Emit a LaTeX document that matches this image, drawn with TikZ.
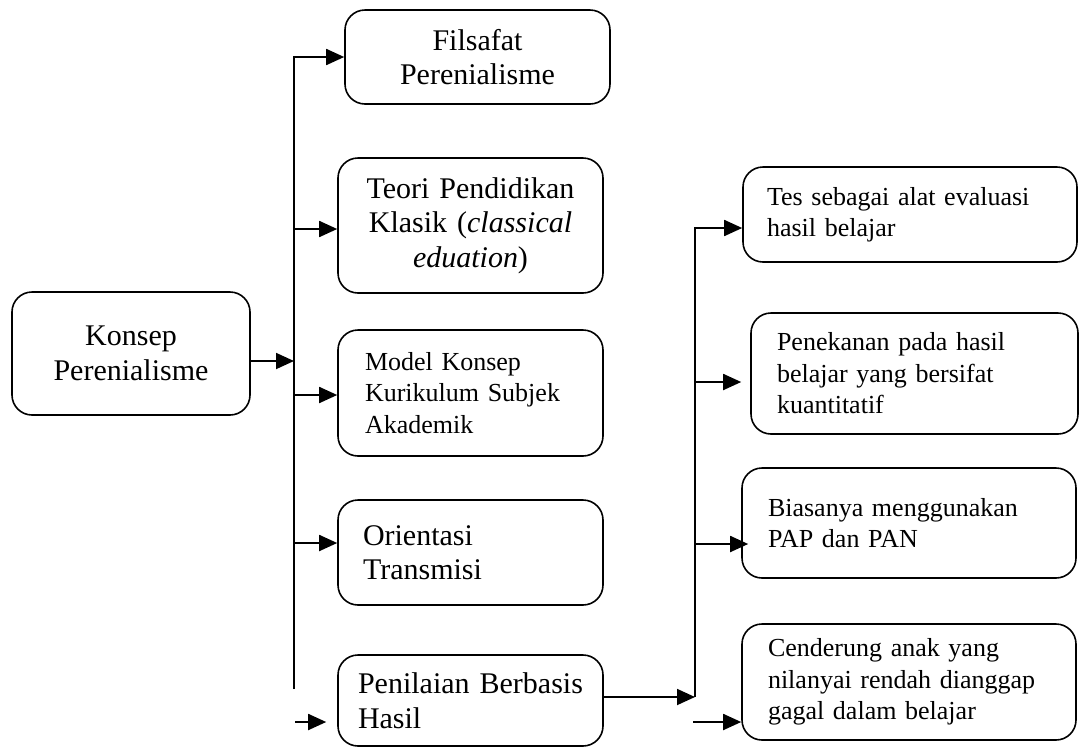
\documentclass[tikz,border=0pt]{standalone}
\usepackage{fontspec}
\setmainfont{Liberation Serif}
\usetikzlibrary{arrows.meta}

\begin{document}
\begin{tikzpicture}[x=1pt,y=-1pt,
 box/.style ={draw=black,line width=1.6pt,rounded corners=20pt,inner ysep=0pt,font=\fontsize{30}{34.5}\selectfont},
 small/.style ={font=\fontsize{26}{31.5}\selectfont},
 link/.style ={-{Triangle[length=18pt,width=16pt]},line width=1.8pt},
 trunk/.style ={-,line width=1.8pt}
 ]
\useasboundingbox (0,0) rectangle (1080,748);
%draw concept box
\node[box,align=center,inner xsep=0pt,text width=238pt,minimum height=123pt] (konsep) at (131,353.5) {Konsep\\Perenialisme};
%draw left column
\node[box,align=center,inner xsep=0pt,text width=265pt,minimum height=94pt] (filsafat) at (477.5,57) {Filsafat\\Perenialisme};
\node[box,align=center,inner xsep=0pt,text width=265pt,minimum height=135pt] (teori) at (470.5,225.5) {Teori Pendidikan\\Klasik (\textit{classical}\\\textit{eduation})};
\node[box,small,align=left,inner xsep=27pt,text width=211pt,minimum height=126pt] (model) at (470.5,393) {Model Konsep\\Kurikulum Subjek\\Akademik};
\node[box,align=left,inner xsep=25pt,text width=215pt,minimum height=105pt] (orientasi) at (470.5,552.5) {Orientasi\\Transmisi};
\node[box,align=left,inner xsep=20pt,text width=225pt,minimum height=91pt] (penilaian) at (470.5,700.5) {Penilaian Berbasis\\Hasil};
%draw right column
\node[box,small,align=left,inner xsep=24pt,text width=286pt,minimum height=95pt] (tes) at (910,214.5) {Tes sebagai alat evaluasi\\hasil belajar};
\node[box,small,align=left,inner xsep=26pt,text width=275pt,minimum height=121pt] (penekanan) at (914.5,373.5) {Penekanan pada hasil\\belajar yang bersifat\\kuantitatif};
\node[box,small,align=left,inner xsep=26pt,text width=282pt,minimum height=110pt] (biasanya) at (909,523) {Biasanya menggunakan\\PAP dan PAN};
\node[box,small,align=left,inner xsep=26pt,text width=282pt,minimum height=116pt] (cenderung) at (909,682) {Cenderung anak yang\\nilanyai rendah dianggap\\gagal dalam belajar};
%junctions on left trunk
\coordinate (ltop) at (294,57);
\coordinate (lbot) at (294,689);
\coordinate (lk) at (294,361);
\coordinate (l2) at (294,229);
\coordinate (l3) at (294,395);
\coordinate (l4) at (294,543);
\coordinate (lfree) at (295,722);
%junctions on right trunk
\coordinate (rtop) at (695,228);
\coordinate (rbot) at (695,697);
\coordinate (r2) at (695,382);
\coordinate (r3) at (695,544);
\coordinate (rfree) at (693,722);
%draw left links
\draw[link] (lbot) -- (ltop) -- (ltop -| filsafat.west);
\draw[link] (konsep.east |- lk) -- (lk);
\draw[link] (l2) -- (l2 -| teori.west);
\draw[link] (l3) -- (l3 -| model.west);
\draw[link] (l4) -- (l4 -| orientasi.west);
\draw[link,shorten >=11pt] (lfree) -- (lfree -| penilaian.west);
%draw right links
\draw[link] (penilaian.east |- rbot) -- (rbot);
\draw[link] (rbot) -- (rtop) -- (rtop -| tes.west);
\draw[link,shorten >=9pt] (r2) -- (r2 -| penekanan.west);
\draw[link,shorten >=-7pt] (r3) -- (r3 -| biasanya.west);
\draw[link] (rfree) -- (rfree -| cenderung.west);
\end{tikzpicture}
\end{document}
